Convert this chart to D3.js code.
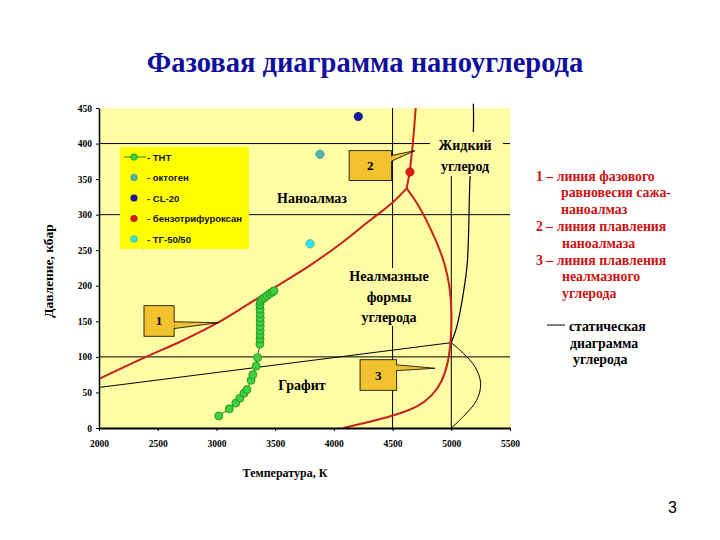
<!DOCTYPE html>
<html><head><meta charset="utf-8">
<script src="https://cdn.jsdelivr.net/npm/d3@7"></script>
<style>
html,body{margin:0;padding:0;background:#fff;}
svg{display:block;}
</style></head>
<body>
<svg id="c" width="720" height="540"></svg>
<script>
// ---------- data ----------
const xTicks = [2000, 2500, 3000, 3500, 4000, 4500, 5000, 5500];
const yTicks = [0, 50, 100, 150, 200, 250, 300, 350, 400, 450];
const gridP = [100, 300, 400];
const gridT = [4500, 5000];

// TNT detonation points
const tntT = [3020, 3110, 3165, 3200, 3235, 3260, 3295, 3310, 3338, 3350, 3370, 3372, 3372, 3373, 3373, 3373, 3373, 3373, 3372, 3370, 3375, 3390, 3410, 3430, 3455, 3475, 3490];
const tntP = [17, 27, 35, 42, 49, 54, 67, 75, 87, 99, 118, 125, 131, 137, 143, 149, 155, 161, 167, 173, 178, 181, 183, 186, 189, 191, 193];

const legendNames = ["- ТНТ", "- октоген", "- CL-20", "- бензотрифуроксан", "- ТГ-50/50"];
const singleNames = ["октоген", "CL-20", "бензотрифуроксан", "ТГ-50/50"];
const singleT = [3882, 4208, 4648, 3797];
const singleP = [385, 438, 360, 259];

// line 1: soot–nanodiamond equilibrium
const line1T = [2000, 2400, 2700, 3000, 3250, 3500, 3800, 4080, 4300, 4500, 4620];
const line1P = [69, 100, 122, 147, 172, 198, 229, 262, 291, 317, 337];
// line 2: nanodiamond melting
const line2T = [4620, 4645, 4671, 4697];
const line2P = [337, 360, 398, 450];
// line 3: non-diamond carbon melting
const line3T = [4620, 4705, 4790, 4875, 4945, 4990, 5005, 4998, 4975, 4920, 4840, 4733, 4540, 4365, 4080];
const line3P = [337, 318, 292, 262, 232, 198, 160, 125, 92, 64, 46, 31, 19, 11, 0];

// static carbon diagram
const statGDT = [2000, 5000];
const statGDP = [57, 120];
const statLiqT = [5000, 5046, 5102, 5137, 5160, 5188, 5188];
const statLiqP = [120, 142, 189, 234, 353, 417, 456];
const statBulgeT = [5000, 5102, 5202, 5250, 5216, 5102, 5000];
const statBulgeP = [120, 105, 86, 63, 39, 16, 0];

// ---------- drawing ----------
const svg = d3.select("#c");
svg.append("rect").attr("width", 720).attr("height", 540).attr("fill", "#fff");

const x = d3.scaleLinear().domain([2000, 5500]).range([99, 510]);
const y = d3.scaleLinear().domain([0, 450]).range([428, 108]);

const serif = "'Liberation Serif','Times New Roman',serif";
const sans = "'Liberation Sans',Arial,sans-serif";
const plotBg = "#FFFCA6";

// title
svg.append("text").attr("x", 365).attr("y", 72).attr("text-anchor", "middle")
  .attr("font-family", serif).attr("font-weight", "bold").attr("font-size", 28.5)
  .attr("fill", "#10109C").text("Фазовая диаграмма наноуглерода");

// plot background
svg.append("rect").attr("x", x(2000)).attr("y", y(450))
  .attr("width", x(5500) - x(2000)).attr("height", y(0) - y(450))
  .attr("fill", plotBg);

// grid lines
svg.selectAll(".gh").data(gridP).enter().append("line")
  .attr("x1", x(2000)).attr("x2", x(5500)).attr("y1", d => y(d)).attr("y2", d => y(d))
  .attr("stroke", "#000").attr("stroke-width", 1);
svg.selectAll(".gv").data(gridT).enter().append("line")
  .attr("x1", d => x(d)).attr("x2", d => x(d)).attr("y1", y(0)).attr("y2", d => d === 5000 ? y(400) : y(450))
  .attr("stroke", "#000").attr("stroke-width", 1);

const zip = (a, b) => a.map((v, i) => [v, b[i]]);
const lineGen = d3.line().x(d => x(d[0])).y(d => y(d[1]));
const smooth = d3.line().x(d => x(d[0])).y(d => y(d[1])).curve(d3.curveCatmullRom.alpha(0.5));
const basis = d3.line().x(d => x(d[0])).y(d => y(d[1])).curve(d3.curveBasis);

// static diagram (black)
svg.append("path").attr("d", lineGen(zip(statGDT, statGDP))).attr("fill", "none").attr("stroke", "#000").attr("stroke-width", 1);
svg.append("path").attr("d", smooth(zip(statLiqT, statLiqP))).attr("fill", "none").attr("stroke", "#000").attr("stroke-width", 1.2);
svg.append("path").attr("d", smooth(zip(statBulgeT, statBulgeP))).attr("fill", "none").attr("stroke", "#000").attr("stroke-width", 1);

// red lines
svg.append("path").attr("d", smooth(zip(line1T, line1P))).attr("fill", "none").attr("stroke", "#C8201A").attr("stroke-width", 2);
svg.append("path").attr("d", smooth(zip(line2T, line2P))).attr("fill", "none").attr("stroke", "#C8201A").attr("stroke-width", 2);
svg.append("path").attr("d", basis(zip(line3T, line3P))).attr("fill", "none").attr("stroke", "#C8201A").attr("stroke-width", 2);

// opaque label boxes
function label(lines, cx, baselines, size, boxRect) {
  if (boxRect) {
    svg.append("rect").attr("x", boxRect[0]).attr("y", boxRect[1]).attr("width", boxRect[2]).attr("height", boxRect[3]).attr("fill", plotBg);
  }
  lines.forEach((s, i) => {
    svg.append("text").attr("x", cx).attr("y", baselines[i]).attr("text-anchor", "middle")
      .attr("font-family", serif).attr("font-weight", "bold").attr("font-size", size)
      .attr("fill", "#000").text(s);
  });
}
label(["Жидкий", "углерод"], 465, [150, 171], 14, [430, 132, 73, 44]);
label(["Неалмазные", "формы", "углерода"], 389, [281, 302, 322], 14, [345, 268, 88, 58]);
label(["Наноалмаз"], 312, [203], 14, null);
label(["Графит"], 302, [390], 14, null);

// callouts
function callout(txt, T0, P0, T1, P1, tipT, tipP, w0, w1) {
  const bx0 = x(T0), bx1 = x(T1), by0 = y(P0), by1 = y(P1);
  svg.append("path")
    .attr("d", `M${bx1 - 1},${by0 + w0} L${x(tipT)},${y(tipP)} L${bx1 - 1},${by0 + w1} Z`)
    .attr("fill", "#F2C12E").attr("stroke", "#000").attr("stroke-width", 0.8);
  svg.append("rect").attr("x", bx0).attr("y", by0).attr("width", bx1 - bx0).attr("height", by1 - by0)
    .attr("fill", "#F2C12E").attr("stroke", "#000").attr("stroke-width", 0.8);
  svg.append("rect").attr("x", bx1 - 1.5).attr("y", by0 + w0 + 0.6).attr("width", 2).attr("height", w1 - w0 - 1.2).attr("fill", "#F2C12E");
  svg.append("text").attr("x", (bx0 + bx1) / 2).attr("y", (by0 + by1) / 2 + 4.5).attr("text-anchor", "middle")
    .attr("font-family", serif).attr("font-weight", "bold").attr("font-size", 13).text(txt);
}
callout("1", 2383, 172, 2640, 129, 3016, 148, 16, 23);
callout("2", 4130, 390, 4490, 348, 4691, 390, 5, 11);
callout("3", 4223, 96, 4535, 53, 4861, 84, 5, 11);

// TNT series
svg.append("path").attr("d", lineGen(zip(tntT, tntP))).attr("fill", "none").attr("stroke", "#1d5a1d").attr("stroke-width", 1);
svg.selectAll(".tnt").data(zip(tntT, tntP)).enter().append("circle")
  .attr("cx", d => x(d[0])).attr("cy", d => y(d[1])).attr("r", 4)
  .attr("fill", "#3DD23D").attr("stroke", "#1E8A1E").attr("stroke-width", 0.8);

const singleFill = ["#4FB3B0", "#1818A0", "#E01818", "#38E0E8"];
const singleStroke = ["#2F8B88", "#0A0A70", "#A00A0A", "#20A8B0"];
svg.selectAll(".single").data(singleNames).enter().append("circle")
  .attr("cx", (d, i) => x(singleT[i])).attr("cy", (d, i) => y(singleP[i])).attr("r", 4.2)
  .attr("fill", (d, i) => singleFill[i]).attr("stroke", (d, i) => singleStroke[i]).attr("stroke-width", 0.6);

// axes
const yAxis = svg.append("g").attr("transform", `translate(${x(2000)},0)`)
  .call(d3.axisLeft(y).tickValues(yTicks).tickSize(3).tickSizeOuter(0).tickPadding(4).tickFormat(d3.format("d")));
const xAxis = svg.append("g").attr("transform", `translate(0,${y(0)})`)
  .call(d3.axisBottom(x).tickValues(xTicks).tickSize(3).tickSizeOuter(0).tickPadding(9).tickFormat(d3.format("d")));
[yAxis, xAxis].forEach(g => {
  g.selectAll("text").attr("font-family", serif).attr("font-weight", "bold").attr("font-size", 9.5).attr("fill", "#000");
  g.selectAll("line").attr("stroke", "#000");
});
yAxis.select(".domain").attr("stroke", "#000").attr("stroke-width", 1.5);
xAxis.select(".domain").attr("stroke", "#000").attr("stroke-width", 2);

// axis titles
svg.append("text").attr("transform", "translate(53,271) rotate(-90)").attr("text-anchor", "middle")
  .attr("font-family", serif).attr("font-weight", "bold").attr("font-size", 13.5).text("Давление, кбар");
svg.append("text").attr("x", 285).attr("y", 477).attr("text-anchor", "middle")
  .attr("font-family", serif).attr("font-weight", "bold").attr("font-size", 12).text("Температура, К");

// legend
svg.append("rect").attr("x", 120).attr("y", 147).attr("width", 129).attr("height", 102).attr("fill", "#FFFF00");
const legFill = ["#3DD23D"].concat(singleFill);
const legStroke = ["#1E8A1E"].concat(singleStroke);
legendNames.forEach((n, i) => {
  const cy = 157 + i * 20.5;
  if (i === 0) {
    svg.append("line").attr("x1", 124).attr("x2", 146).attr("y1", cy).attr("y2", cy).attr("stroke", "#2a8a2a").attr("stroke-width", 1);
  }
  svg.append("circle").attr("cx", 134).attr("cy", cy).attr("r", 3.3)
    .attr("fill", legFill[i]).attr("stroke", legStroke[i]).attr("stroke-width", 0.6);
  svg.append("text").attr("x", 147).attr("y", cy + 3.5).attr("font-family", sans).attr("font-weight", "bold").attr("font-size", 9.5)
    .attr("fill", "#111").text(n);
});

// right-side explanatory text
const redLines = [["1 – линия фазового", 536], ["равновесия сажа-", 561], ["наноалмаз", 561], ["2 – линия плавления", 536], ["наноалмаза", 562], ["3 – линия плавления", 536], ["неалмазного", 562], ["углерода", 562]];
redLines.forEach((r, i) => {
  svg.append("text").attr("x", r[1]).attr("y", 180.5 + i * 16.8)
    .attr("font-family", serif).attr("font-weight", "bold").attr("font-size", 13.8)
    .attr("fill", "#CC1010").text(r[0]);
});
svg.append("line").attr("x1", 547).attr("x2", 565).attr("y1", 325).attr("y2", 325).attr("stroke", "#000").attr("stroke-width", 1);
[["статическая", 569, 331], ["диаграмма", 570, 347.5], ["углерода", 573, 363.5]].forEach(r => {
  svg.append("text").attr("x", r[1]).attr("y", r[2])
    .attr("font-family", serif).attr("font-weight", "bold").attr("font-size", 13.8)
    .attr("fill", "#000").text(r[0]);
});

// page number
svg.append("text").attr("x", 672.5).attr("y", 513).attr("text-anchor", "middle")
  .attr("font-family", sans).attr("font-size", 16).attr("fill", "#000").text("3");
</script>
</body></html>
